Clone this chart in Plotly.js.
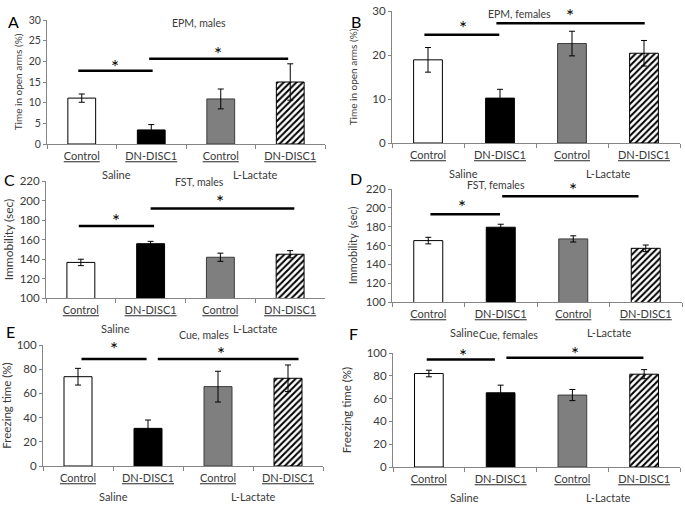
<!DOCTYPE html>
<html>
<head>
<meta charset="utf-8">
<script src="https://cdn.plot.ly/plotly-3.0.1.min.js"></script>
<style>
  html, body { margin: 0; padding: 0; background: #fff; }
  #chart { width: 685px; height: 506px; }
</style>
</head>
<body>
<div id="chart"></div>
<script>
(function () {
  'use strict';

  // ─── Data ───────────────────────────────────────────────────────────────────
  var treatments = ['Control', 'DN-DISC1', 'Control', 'DN-DISC1'];
  var groups     = ['Saline', 'Saline', 'L-Lactate', 'L-Lactate'];

  var epmMalesMean   = [11.1, 3.4, 10.9, 15.0];
  var epmMalesSem    = [1.0, 1.3, 2.4, 4.4];
  var epmFemalesMean = [18.9, 10.2, 22.6, 20.4];
  var epmFemalesSem  = [2.8, 2.0, 2.8, 2.9];
  var fstMalesMean   = [136.5, 155.7, 141.8, 144.9];
  var fstMalesSem    = [3.3, 2.4, 4.2, 3.7];
  var fstFemalesMean = [165.2, 179.4, 167.0, 157.0];
  var fstFemalesSem  = [3.5, 3.2, 3.3, 3.5];
  var cueMalesMean   = [73.8, 31.1, 65.6, 72.5];
  var cueMalesSem    = [6.9, 6.9, 12.7, 11.0];
  var cueFemalesMean = [82.0, 65.1, 63.1, 81.4];
  var cueFemalesSem  = [2.9, 6.7, 4.9, 4.0];

  // significance brackets: [from, to, level, starX, starY]
  var epmMalesSig   = [[-0.05, 1.02, 17.7, 0.48, 19.2], [0.97, 2.97, 20.6, 1.96, 22.4]];
  var epmFemalesSig = [[-0.05, 0.99, 24.6, 0.49, 26.8], [0.95, 3.01, 27.2, 1.97, 29.5]];
  var fstMalesSig   = [[-0.03, 1.05, 173.8, 0.51, 181.6], [1.0, 3.06, 191.8, 2.0, 200.6]];
  var fstFemalesSig = [[0.03, 0.99, 193.3, 0.46, 203.3], [1.02, 2.9, 212.2, 2.0, 221.8]];
  var cueMalesSig   = [[0.05, 0.98, 88.4, 0.52, 98.6], [1.14, 3.15, 88.4, 2.04, 94.5]];
  var cueFemalesSig = [[-0.03, 0.92, 94.2, 0.48, 99.4], [1.08, 2.99, 95.9, 2.03, 101.7]];

  // ─── Styles ─────────────────────────────────────────────────────────────────
  var FONT      = 'Lato, "Open Sans", sans-serif';
  var TEXT      = '#3a3a3a';
  var AXIS      = '#858585';
  var BAR_FILL  = ['#ffffff', '#000000', '#7f7f7f', '#ffffff'];
  var BAR_EDGE  = ['#000000', '#000000', '#3c3c3c', '#000000'];
  var BAR_SHAPE = ['', '', '', '/'];

  var panels = [
    { letter: 'A', title: 'EPM, males',   yTitle: 'Time in open arms (%)', mean: epmMalesMean,   sem: epmMalesSem,   sig: epmMalesSig,
      range: [0, 30], dtick: 5, xd: [47, 325], yd: [20, 144], titlePos: [170, 15], letterPos: [6, 10],
      tickSize: 10.5, yTitleSize: 10, standoff: 4 },
    { letter: 'B', title: 'EPM, females', yTitle: 'Time in open arms (%)', mean: epmFemalesMean, sem: epmFemalesSem, sig: epmFemalesSig,
      range: [0, 30], dtick: 10, xd: [392, 680], yd: [11, 143], titlePos: [553, 6], letterPos: [349, 10],
      tickSize: 11.5, yTitleSize: 10, standoff: 12 },
    { letter: 'C', title: 'FST, males',   yTitle: 'Immobility (sec)',      mean: fstMalesMean,   sem: fstMalesSem,   sig: fstMalesSig,
      range: [100, 220], dtick: 20, xd: [46, 325], yd: [181, 298], titlePos: [173, 182], letterPos: [2, 180],
      tickSize: 11.5, yTitleSize: 12, standoff: 3 },
    { letter: 'D', title: 'FST, females', yTitle: 'Immobility  (sec)',     mean: fstFemalesMean, sem: fstFemalesSem, sig: fstFemalesSig,
      range: [100, 220], dtick: 20, xd: [392, 682], yd: [189, 302], titlePos: [527, 185], letterPos: [348, 179],
      tickSize: 11.5, yTitleSize: 11, standoff: 5 },
    { letter: 'E', title: 'Cue, males',   yTitle: 'Freezing time (%)',     mean: cueMalesMean,   sem: cueMalesSem,   sig: cueMalesSig,
      range: [0, 100], dtick: 20, xd: [43, 323], yd: [345, 466], titlePos: [177, 343], letterPos: [4, 343],
      tickSize: 11.5, yTitleSize: 11.5, standoff: 4 },
    { letter: 'F', title: 'Cue, females', yTitle: 'Freezing time (%)',     mean: cueFemalesMean, sem: cueFemalesSem, sig: cueFemalesSig,
      range: [0, 100], dtick: 20, xd: [393, 680], yd: [353, 467], titlePos: [540, 343], letterPos: [347, 345],
      tickSize: 11.5, yTitleSize: 11.5, standoff: 12 }
  ];

  var W = 685, H = 506;
  var keys = treatments.map(function (t, i) { return groups[i] + ' ' + t; });
  var tickText = treatments.map(function (t) { return '<u>' + t + '</u>'; });

  var traces = [], shapes = [], annotations = [];
  var layout = {
    width: W, height: H,
    margin: { l: 0, r: 0, t: 0, b: 0 },
    paper_bgcolor: '#fff', plot_bgcolor: '#fff',
    showlegend: false, barmode: 'overlay',
    font: { family: FONT, color: TEXT, size: 11 }
  };

  // ─── Build panels ───────────────────────────────────────────────────────────
  panels.forEach(function (p, i) {
    var n  = i === 0 ? '' : String(i + 1);
    var xa = 'x' + n, ya = 'y' + n;

    // one trace per bar so each can carry its own fill / hatch
    keys.forEach(function (k, j) {
      var marker = { color: BAR_FILL[j], line: { color: BAR_EDGE[j], width: 1 } };
      if (BAR_SHAPE[j]) {
        marker.pattern = { shape: BAR_SHAPE[j], fgcolor: '#000', bgcolor: '#fff', size: 4.5, solidity: 0.45 };
      }
      traces.push({
        type: 'bar', x: [k], y: [p.mean[j]], xaxis: xa, yaxis: ya, width: 0.4,
        marker: marker,
        error_y: { type: 'data', array: [p.sem[j]], visible: true, color: '#000', thickness: 1, width: 3 },
        hoverinfo: 'skip'
      });
    });

    layout['xaxis' + n] = {
      domain: [p.xd[0] / W, p.xd[1] / W], anchor: ya, type: 'category',
      categoryorder: 'array', categoryarray: keys,
      tickmode: 'array', tickvals: keys, ticktext: tickText,
      tickson: 'boundaries', ticks: 'outside', ticklen: 4, tickcolor: AXIS,
      ticklabelstandoff: 2,
      showline: true, linecolor: AXIS, linewidth: 1, showgrid: false, zeroline: false,
      tickfont: { size: 11, color: TEXT }, fixedrange: true
    };
    layout['yaxis' + n] = {
      domain: [1 - p.yd[1] / H, 1 - p.yd[0] / H], anchor: xa,
      range: p.range, dtick: p.dtick, ticks: 'outside', ticklen: 3, tickcolor: AXIS,
      showline: true, linecolor: AXIS, linewidth: 1, showgrid: false, zeroline: false,
      tickfont: { size: p.tickSize, color: TEXT }, fixedrange: true,
      title: { text: p.yTitle, font: { size: p.yTitleSize, color: TEXT }, standoff: p.standoff }
    };

    // group labels under the treatment labels
    [['Saline', 0.5], ['L-Lactate', 2.5]].forEach(function (g) {
      annotations.push({
        text: g[0], xref: xa, yref: ya + ' domain', x: g[1], y: 0,
        yanchor: 'top', yshift: -22, showarrow: false, font: { size: 11, color: TEXT }
      });
    });

    // significance brackets
    var span = p.range[1] - p.range[0];
    p.sig.forEach(function (s) {
      shapes.push({
        type: 'line', xref: xa, yref: ya, x0: s[0], x1: s[1], y0: s[2], y1: s[2],
        line: { color: '#000', width: 2.5 }
      });
      annotations.push({
        text: '*', xref: xa, yref: ya + ' domain', x: s[3], y: (s[4] - p.range[0]) / span,
        yanchor: 'middle', yshift: -2, showarrow: false, font: { size: 19, color: '#000' }
      });
    });

    annotations.push({
      text: p.title, xref: 'paper', yref: 'paper',
      x: p.titlePos[0] / W, y: 1 - p.titlePos[1] / H,
      showarrow: false, font: { size: 10.5, color: TEXT }
    });
    annotations.push({
      text: p.letter, xref: 'paper', yref: 'paper',
      x: p.letterPos[0] / W, y: 1 - p.letterPos[1] / H, xanchor: 'left',
      showarrow: false, font: { size: 16, color: '#000' }
    });
  });

  layout.shapes = shapes;
  layout.annotations = annotations;

  Plotly.newPlot('chart', traces, layout, { displayModeBar: false, staticPlot: true });
})();
</script>
</body>
</html>
